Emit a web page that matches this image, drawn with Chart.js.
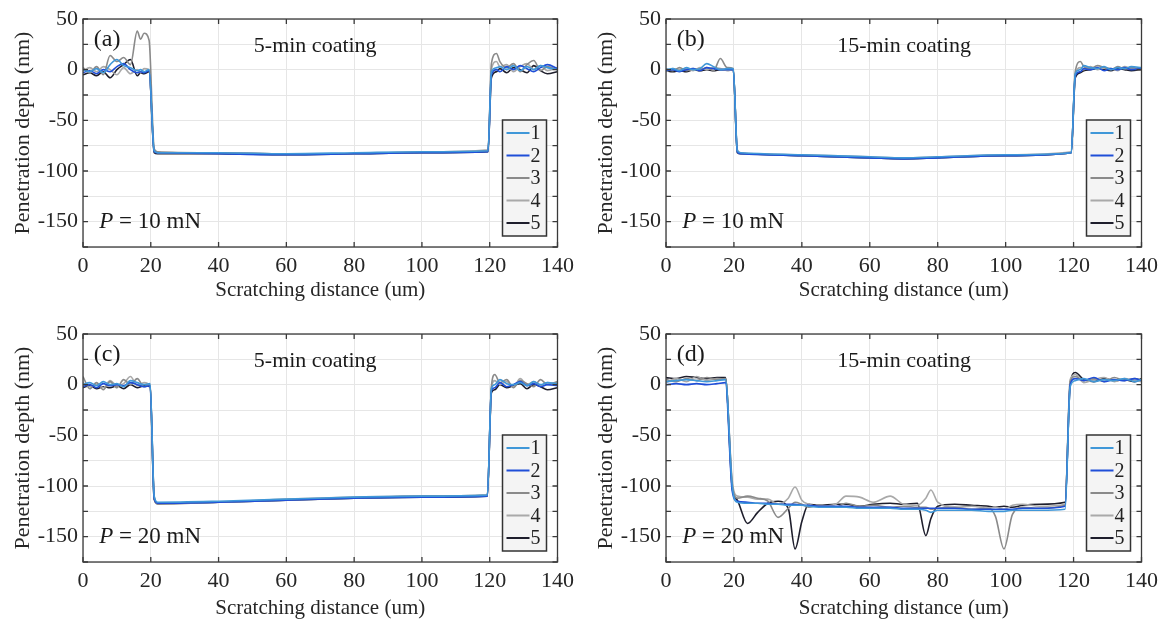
<!DOCTYPE html>
<html>
<head>
<meta charset="utf-8">
<script src="https://cdn.jsdelivr.net/npm/chart.js@4.4.0/dist/chart.umd.min.js"></script>
<style>
    html, body { margin: 0; padding: 0; background: #fff; overflow: hidden; width: 1164px; height: 619px; }
    canvas { position: absolute; }
</style>
</head>
<body>
<canvas id="chart-a" width="580" height="310" style="left:0;top:0"></canvas>
<canvas id="chart-b" width="584" height="310" style="left:580px;top:0"></canvas>
<canvas id="chart-c" width="580" height="314" style="left:0;top:310px"></canvas>
<canvas id="chart-d" width="584" height="314" style="left:580px;top:310px"></canvas>
<script>
// Series names and shared tick labels
const seriesNames = ['1', '2', '3', '4', '5'];
const yTickLabels = [50, 0, -50, -100, -150];
const xTickLabels = [0, 20, 40, 60, 80, 100, 120, 140];

// Panel captions
const panelTags = ['(a)', '(b)', '(c)', '(d)'];
const coatingNames = ['5-min coating', '15-min coating', '5-min coating', '15-min coating'];
const loadNames = ['10 mN', '10 mN', '20 mN', '20 mN'];

// (a) 5-min coating, P = 10 mN
const distA = [0, 2, 4, 6, 8, 10, 12, 14, 16, 17, 18, 19.5, 21, 22, 40, 60, 80, 100, 119.5, 120.5, 122, 123, 125, 127, 129, 131, 133, 135, 137, 140];
const runA1 = [0, -2, 1, -3, 5, 10, 4, 2, -1, 0, -2, 0, -80, -82, -82, -83, -82, -81, -80, -2, 2, 3, 0, 4, -1, 3, 0, 4, 2, 0];
const runA2 = [-3, -1, -4, 0, -2, 3, 6, 0, -3, -2, -3, -1, -81, -82, -83, -84, -83, -82, -81, -5, 0, -2, 3, 0, 4, 1, -2, 2, 5, 1];
const runA3 = [2, -3, 3, -5, 14, 8, 12, 5, 38, 30, 36, 29, -78, -81, -82, -83, -83, -82, -80, 6, 16, 8, 2, 6, -2, 5, 9, -1, 3, 0];
const runA4 = [-1, 2, -2, 3, 0, -5, 2, -4, 0, -3, 1, 0, -80, -82, -82, -83, -83, -81, -79, 0, 8, 3, 5, -2, 3, 6, 0, 4, -1, 2];
const runA5 = [-5, -3, -6, -2, -8, 0, 5, 10, -6, -3, -4, -2, -82, -83, -83, -84, -83, -82, -81, -8, -2, 1, -3, 2, 0, -3, 4, -1, -4, -2];

// (b) 15-min coating, P = 10 mN
const distB = [0, 2, 4, 6, 8, 10, 12, 14, 16, 18, 19.8, 21, 22, 40, 60, 70, 80, 100, 119.3, 120.5, 122, 123, 125, 127, 129, 131, 133, 135, 137, 140];
const runB1 = [0, 1, -1, 2, 0, 1, 6, 3, 0, 1, 1, -80, -82, -84, -86, -87, -86, -84, -82, -4, 0, 4, 2, 1, 3, 0, 2, 1, 3, 2];
const runB2 = [-1, 0, -2, 0, 1, -1, 2, 1, 0, 0, 0, -81, -83, -85, -87, -88, -87, -85, -82, -6, -2, 1, 0, 2, -1, 1, 0, 2, 0, 1];
const runB3 = [1, -1, 2, -1, 1, 0, 2, -1, 11, 2, 1, -81, -83, -85, -87, -88, -87, -85, -82, -2, 8, 3, 1, 4, 2, 0, 3, 1, 2, 0];
const runB4 = [-2, 1, 0, 1, -1, 2, 0, 2, 1, -1, 0, -79, -82, -84, -86, -87, -86, -84, -81, -5, 2, 0, 3, 0, 2, 1, -1, 3, 1, 0];
const runB5 = [-1, -2, -1, -2, 0, -1, 0, -1, 0, 0, 0, -82, -83, -85, -87, -88, -87, -85, -82, -8, -3, -1, 0, 1, 0, -1, 1, 0, -1, 0];

// (c) 5-min coating, P = 20 mN
const distC = [0, 2, 4, 6, 8, 10, 12, 14, 16, 18, 19.8, 21, 22, 40, 60, 80, 100, 119.3, 120.5, 121.5, 123, 125, 127, 129, 131, 133, 135, 137, 140];
const runC1 = [0, 2, -1, 3, 0, 1, -2, 4, 2, 0, 1, -110, -116, -115, -113, -111, -110, -109, -4, 0, 5, 1, 0, 2, -1, 3, 0, 2, 1];
const runC2 = [-2, 0, -3, 1, -1, 0, -1, 2, 0, -2, -1, -112, -117, -116, -114, -112, -111, -110, -6, -3, 2, -2, 0, 3, -1, 1, -2, 0, -1];
const runC3 = [8, -4, 2, -5, 3, -3, 5, 0, 6, -2, 0, -110, -118, -116, -114, -112, -110, -109, -2, 10, 2, 5, -3, 4, 1, -2, 5, 0, 3];
const runC4 = [2, -2, 0, -3, 4, -1, 1, 8, -1, 2, -2, -111, -117, -116, -113, -111, -110, -109, -3, 4, 0, 3, -2, 6, 0, 3, -1, 2, 0];
const runC5 = [-3, -1, -4, -2, -3, -1, -4, 0, -3, -1, -2, -113, -117, -116, -114, -112, -111, -110, -8, -5, 0, -3, -1, 1, -4, 0, -2, -5, -3];

// (d) 15-min coating, P = 20 mN
const distD = [0, 3, 6, 9, 12, 15, 17.5, 19.5, 21, 24, 27, 30, 33, 36, 38, 40, 42, 45, 50, 53, 57, 61, 66, 70, 74, 76.5, 78, 80, 85, 90, 95, 97, 99.5, 102, 105, 110, 117.5, 119, 120.5, 123, 126, 129, 132, 135, 138, 140];
const runD1 = [3, 4, 5, 4, 3, 4, 5, -100, -116, -117, -117, -118, -118, -119, -119, -119, -120, -121, -121, -121, -122, -122, -122, -123, -123, -124, -126, -124, -124, -124, -125, -125, -125, -124, -124, -124, -123, -2, 4, 6, 3, 5, 4, 6, 3, 5];
const runD2 = [0, 1, 0, 1, 0, 1, 2, -105, -115, -116, -117, -117, -118, -118, -118, -119, -119, -120, -120, -120, -121, -121, -121, -122, -122, -122, -122, -122, -122, -123, -123, -123, -123, -123, -122, -122, -120, 0, 6, 4, 7, 3, 5, 4, 6, 4];
const runD3 = [5, 3, 6, 4, 7, 5, 6, -98, -112, -110, -112, -115, -131, -122, -116, -118, -121, -119, -121, -117, -120, -119, -121, -120, -121, -121, -123, -122, -121, -123, -122, -130, -162, -128, -121, -122, -119, 3, 8, 4, 6, 3, 7, 4, 6, 5];
const runD4 = [2, 6, 3, 8, 4, 6, 5, -95, -110, -111, -113, -113, -118, -112, -101, -114, -118, -120, -118, -110, -111, -116, -110, -118, -119, -112, -104, -116, -121, -120, -122, -121, -123, -119, -118, -120, -118, 5, 10, 2, 5, 7, 3, 6, 4, 3];
const runD5 = [7, 6, 8, 7, 6, 7, 7, -102, -114, -137, -126, -117, -115, -122, -162, -135, -118, -119, -118, -118, -120, -118, -117, -118, -117, -149, -132, -120, -118, -119, -120, -121, -120, -121, -119, -118, -116, 0, 12, 5, 3, 6, 4, 5, 3, 6];

const lineColors = ['#3f97d8', '#1f4ed8', '#8a8a8a', '#a9a9a9', '#1e1e2c'];
const serif = '"Liberation Serif", "Times New Roman", serif';

/**
 * Draws the axis box, inward ticks, captions and the boxed legend
 */
const panelDecor = {
    id: 'panelDecor',
    afterDatasetsDraw(chart, args, opts) {
        const ctx = chart.ctx;
        const a = chart.chartArea;
        const xs = chart.scales.x;
        const ys = chart.scales.y;
        ctx.save();

        // axis box and inward ticks
        ctx.strokeStyle = '#3a3a3a';
        ctx.lineWidth = 1.3;
        ctx.strokeRect(a.left, a.top, a.right - a.left, a.bottom - a.top);
        ctx.beginPath();
        xs.ticks.forEach(t => {
            const px = xs.getPixelForValue(t.value);
            ctx.moveTo(px, a.bottom); ctx.lineTo(px, a.bottom - 5);
            ctx.moveTo(px, a.top); ctx.lineTo(px, a.top + 5);
        });
        ys.ticks.forEach(t => {
            const py = ys.getPixelForValue(t.value);
            ctx.moveTo(a.left, py); ctx.lineTo(a.left + 5, py);
            ctx.moveTo(a.right, py); ctx.lineTo(a.right - 5, py);
        });
        ctx.stroke();

        // captions
        ctx.fillStyle = '#1a1a1a';
        ctx.textBaseline = 'middle';
        ctx.textAlign = 'left';
        ctx.font = '24px ' + serif;
        ctx.fillText(opts.tag, xs.getPixelForValue(3.2), ys.getPixelForValue(30));
        ctx.font = '22px ' + serif;
        ctx.fillText(opts.coating, xs.getPixelForValue(50.4), ys.getPixelForValue(23));
        const lx = xs.getPixelForValue(4.8);
        const ly = ys.getPixelForValue(-150);
        ctx.font = 'italic 23px ' + serif;
        ctx.fillText('P', lx, ly);
        const pw = ctx.measureText('P').width;
        ctx.font = '23px ' + serif;
        ctx.fillText(' = ' + opts.load, lx + pw, ly);

        // legend
        const bw = 44, bh = 116;
        const bx = a.right - 11 - bw;
        const by = a.bottom - 11 - bh;
        ctx.fillStyle = '#f4f4f4';
        ctx.fillRect(bx, by, bw, bh);
        ctx.strokeStyle = '#333';
        ctx.lineWidth = 1.5;
        ctx.strokeRect(bx, by, bw, bh);
        ctx.font = '20px ' + serif;
        chart.data.datasets.forEach((ds, i) => {
            const ry = by + 13 + i * 22.5;
            ctx.strokeStyle = ds.borderColor;
            ctx.lineWidth = 2;
            ctx.beginPath();
            ctx.moveTo(bx + 4, ry);
            ctx.lineTo(bx + 27, ry);
            ctx.stroke();
            ctx.fillStyle = '#222';
            ctx.fillText(ds.label, bx + 28, ry + 1);
        });
        ctx.restore();
    }
};

/**
 * Create one scratch-depth panel
 */
function createPanel(id, dist, runs, index, padLeft, padTop) {
    const ctx = document.getElementById(id);
    return new Chart(ctx, {
        type: 'line',
        data: {
            datasets: runs.map((run, i) => ({
                label: seriesNames[i],
                data: dist.map((d, k) => ({ x: d, y: run[k] })),
                borderColor: lineColors[i],
                borderWidth: 1.6,
                pointRadius: 0,
                cubicInterpolationMode: 'monotone',
                fill: false
            }))
        },
        options: {
            responsive: false,
            animation: false,
            layout: {
                padding: { left: padLeft, top: padTop, right: 18, bottom: 0 }
            },
            plugins: {
                legend: { display: false },
                tooltip: { enabled: false },
                panelDecor: {
                    tag: panelTags[index],
                    coating: coatingNames[index],
                    load: loadNames[index]
                }
            },
            scales: {
                x: {
                    type: 'linear',
                    min: 0,
                    max: 140,
                    afterFit: scale => { scale.height = index < 2 ? 63 : 62; },
                    afterBuildTicks: scale => {
                        scale.ticks = xTickLabels.map(v => ({ value: v }));
                    },
                    border: { display: false },
                    grid: { color: '#e6e6e6', lineWidth: 1, drawTicks: false },
                    ticks: {
                        autoSkip: false,
                        maxRotation: 0,
                        padding: 6,
                        color: '#262626',
                        font: { family: serif, size: 22 }
                    },
                    title: {
                        display: true,
                        text: 'Scratching distance (um)',
                        color: '#262626',
                        font: { family: serif, size: 21 },
                        padding: { top: 0, bottom: index < 2 ? 7 : 3 }
                    }
                },
                y: {
                    type: 'linear',
                    min: -175,
                    max: 50,
                    afterFit: scale => { scale.width = 83; },
                    border: { display: false },
                    grid: { color: '#e6e6e6', lineWidth: 1, drawTicks: false },
                    ticks: {
                        stepSize: 25,
                        autoSkip: false,
                        padding: 5,
                        color: '#262626',
                        font: { family: serif, size: 22 },
                        callback: v => yTickLabels.includes(v) ? String(v) : ''
                    },
                    title: {
                        display: true,
                        text: 'Penetration depth (nm)',
                        color: '#262626',
                        font: { family: serif, size: 22 },
                        padding: { top: 10, bottom: 0 }
                    }
                }
            }
        },
        plugins: [panelDecor]
    });
}

createPanel('chart-a', distA, [runA1, runA2, runA3, runA4, runA5], 0, 0, 19);
createPanel('chart-b', distB, [runB1, runB2, runB3, runB4, runB5], 1, 3, 19);
createPanel('chart-c', distC, [runC1, runC2, runC3, runC4, runC5], 2, 0, 24);
createPanel('chart-d', distD, [runD1, runD2, runD3, runD4, runD5], 3, 3, 24);
</script>
</body>
</html>
